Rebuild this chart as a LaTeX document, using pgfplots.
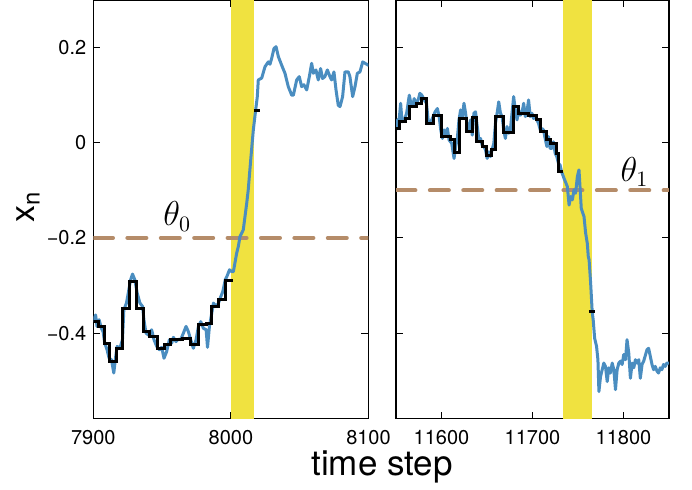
\documentclass[border=0pt]{standalone}
\usepackage{pgfplots}
\pgfplotsset{compat=1.18}
\usepackage{fontspec}
\setmainfont{TeX Gyre Heros}
\definecolor{myblue}{RGB}{74,141,192}
\definecolor{bandyellow}{RGB}{240,226,64}
\definecolor{dashtan}{RGB}{181,140,105}
\pgfplotsset{
  myax/.style={
    scale only axis,
    height=209.35pt,
    ymin=-0.58, ymax=0.3,
    ytick={-0.4,-0.2,0,0.2},
    tick align=inside,
    major tick length=3.5pt,
    scaled x ticks=false,
    scaled y ticks=false,
    axis line style={line width=0.75pt, black},
    every tick/.style={black, line width=0.5pt},
    tick label style={font=\fontsize{10}{11}\selectfont},
    xticklabel style={yshift=-2.5pt},
    clip=true,
  },
  bluel/.style={myblue, line width=1.5pt, line join=round, no marks},
  blackl/.style={black, line width=1.5pt, no marks, const plot},
  dashl/.style={dashtan, line width=2pt, line cap=round, dash pattern=on 9.5pt off 7.2pt, no marks},
}
\begin{document}
\begin{tikzpicture}
\useasboundingbox (0,0) rectangle (346pt,244.5pt);
% ---------------- left panel
\begin{axis}[myax,
  at={(46.65pt,35.15pt)}, anchor=south west,
  width=137.6pt,
  xmin=7900, xmax=8100,
  xtick={7900,8000,8100},
  xticklabels={7900,8000,8100},
  yticklabels={−0.4,−0.2,0,0.2},
]
\addplot[draw=none, fill=bandyellow] coordinates {(8000,-1) (8017,-1) (8017,1) (8000,1)} -- cycle;
\addplot[dashl] coordinates {(7900.5,-0.2) (8100,-0.2)};
\addplot[bluel] coordinates {
(7900,-0.376) (7901.7,-0.362) (7902.7,-0.386) (7904.2,-0.372) (7905.9,-0.390) (7907.1,-0.397)
(7908.3,-0.421) (7910,-0.435) (7911.5,-0.453) (7913.2,-0.456) (7914.9,-0.484) (7916.3,-0.449)
(7917.3,-0.428) (7919.3,-0.432) (7921.2,-0.414) (7922.2,-0.351) (7924.1,-0.337) (7925.4,-0.316)
(7927.1,-0.288) (7928.5,-0.276) (7930.2,-0.288) (7931.9,-0.316) (7933.9,-0.337) (7935.8,-0.344)
(7936.8,-0.372) (7938.3,-0.400) (7940,-0.404) (7942.4,-0.393) (7944.1,-0.414) (7946.1,-0.428)
(7948,-0.435) (7949.7,-0.430) (7951.4,-0.453) (7953.3,-0.439) (7955.3,-0.414) (7957,-0.421)
(7958.2,-0.409) (7960.1,-0.418) (7961.8,-0.413) (7963.5,-0.414) (7965.5,-0.400) (7967.4,-0.386)
(7969.1,-0.397) (7970.8,-0.414) (7972.7,-0.432) (7974.7,-0.414) (7976.4,-0.386) (7978.1,-0.376)
(7980,-0.390) (7982,-0.393) (7983,-0.430) (7984.4,-0.386) (7986.1,-0.358) (7987.3,-0.337)
(7989.3,-0.344) (7991,-0.337) (7992.7,-0.323) (7994.1,-0.313) (7995.9,-0.288) (7997.1,-0.281)
(7999,-0.267) (8000.7,-0.271) (8001.8,-0.271) (8004.2,-0.232) (8005.4,-0.218) (8006.6,-0.197)
(8009,-0.183) (8011.5,-0.127) (8012.6,-0.099) (8014.6,-0.029) (8016.3,0.027) (8018,0.069)
(8019.2,0.097) (8019.9,0.132) (8022.4,0.136) (8024.8,0.160) (8027.2,0.170) (8028.4,0.165)
(8029.6,0.177) (8031.3,0.198) (8032.8,0.202) (8034.5,0.181) (8036.9,0.163) (8039.3,0.146)
(8041.7,0.118) (8044.2,0.100) (8045.4,0.100) (8047.8,0.132) (8049.7,0.139) (8051.4,0.118)
(8053,0.122) (8055.1,0.111) (8057,0.139) (8058.7,0.167) (8059.9,0.146) (8061.8,0.153)
(8063.5,0.132) (8065.2,0.156) (8066.6,0.135) (8068.3,0.139) (8070.1,0.153) (8072,0.139)
(8073.2,0.132) (8074.9,0.149) (8076.4,0.111) (8078,0.079) (8079.3,0.076) (8081.2,0.097)
(8082.9,0.149) (8085.3,0.149) (8086.5,0.139) (8088.5,0.097) (8090.2,0.118) (8091.9,0.146)
(8093.8,0.149) (8095.8,0.170) (8097.5,0.167) (8099.9,0.163) (8100,0.163)
};
\addplot[blackl] coordinates {
(7900,-0.376) (7904,-0.386) (7908,-0.421) (7911.5,-0.460) (7916.5,-0.432) (7921.5,-0.348)
(7926.5,-0.292) (7931.5,-0.348) (7936.5,-0.397) (7941,-0.407) (7946.5,-0.432) (7952,-0.425)
(7956,-0.414) (7965,-0.411) (7970.5,-0.425) (7976.5,-0.383) (7982,-0.379) (7986,-0.345)
(7991,-0.330) (7996,-0.289) (8001.5,-0.289)
};
\addplot[blackl] coordinates {(8016.5,0.068) (8021.5,0.068)};
\node at (axis cs:7961,-0.155) {\fontsize{16}{17}\selectfont$\theta_0$};
\end{axis}
% ---------------- right panel
\begin{axis}[myax,
  at={(198pt,35.15pt)}, anchor=south west,
  width=136.5pt,
  xmin=11550, xmax=11850,
  xtick={11600,11700,11800},
  xticklabels={11600,11700,11800},
  yticklabels={},
]
\addplot[draw=none, fill=bandyellow] coordinates {(11733,-1) (11765,-1) (11765,1) (11733,1)} -- cycle;
\addplot[dashl] coordinates {(11550.5,-0.1) (11850,-0.1)};
\addplot[bluel] coordinates {
(11550,0.027) (11551.8,0.048) (11553.6,0.051) (11555.1,0.083) (11556.6,0.044) (11559.1,0.048)
(11561.7,0.062) (11564.6,0.100) (11566.4,0.083) (11568.2,0.076) (11570,0.093) (11571.9,0.079)
(11574.8,0.093) (11576.2,0.104) (11578.4,0.100) (11581,0.090) (11583.5,0.083) (11585.7,0.041)
(11588.3,0.044) (11590.8,0.055) (11593,0.065) (11595.5,0.072) (11597.4,0.055) (11599.2,0.027)
(11601,0.009) (11602.8,0.027) (11604.6,0.016) (11606.5,0.030) (11608.3,0.006) (11611.2,-0.001)
(11613.8,-0.033) (11615.6,-0.008) (11617.4,0.009) (11619.2,0.048) (11621,0.069) (11622.9,0.055)
(11624.7,0.083) (11626.5,0.062) (11628.3,0.034) (11630.1,0.027) (11632,0.048) (11633.8,0.016)
(11635.6,0.062) (11637.4,0.065) (11639.3,0.034) (11641.1,0.006) (11642.9,0.009) (11644.7,-0.005)
(11646.5,-0.008) (11648.4,-0.015) (11650.2,-0.033) (11652,-0.019) (11653.8,-0.029) (11655.6,-0.015)
(11657.5,-0.001) (11659.3,0.041) (11661.1,0.062) (11662.9,0.086) (11664.8,0.062) (11666.6,0.055)
(11668.4,0.027) (11670.2,0.009) (11672,0.034) (11673.9,0.020) (11675.7,0.027) (11677.5,0.062)
(11679.3,0.097) (11681.1,0.069) (11683,0.048) (11684.8,0.069) (11686.6,0.058) (11688.4,0.062)
(11690.3,0.083) (11692.1,0.055) (11693.9,0.065) (11695.7,0.090) (11697.5,0.055) (11699.4,0.062)
(11701.2,0.051) (11703,0.055) (11704.8,0.048) (11706.6,0.041) (11708.5,0.027) (11710.3,0.030)
(11712.1,0.027) (11713.9,0.009) (11715.8,-0.008) (11717.6,0.013) (11719.4,-0.012) (11721.2,-0.012)
(11723,0.002) (11724.9,-0.022) (11726.7,-0.029) (11728.5,-0.043) (11730.3,-0.047) (11732,-0.061)
(11734.7,-0.075) (11738.3,-0.092) (11740.2,-0.131) (11742,-0.113) (11743.8,-0.120) (11745.6,-0.099)
(11747.4,-0.106) (11749.3,-0.071) (11751.1,-0.057) (11752.2,-0.092) (11753.6,-0.138) (11756.6,-0.155)
(11758.4,-0.190) (11760.2,-0.211) (11761.3,-0.239) (11762.2,-0.246) (11763.9,-0.295) (11765.6,-0.355)
(11766.7,-0.372) (11768.3,-0.411) (11770.4,-0.428) (11771.9,-0.456) (11773,-0.523) (11774.8,-0.491)
(11776.6,-0.477) (11778.4,-0.463) (11780.2,-0.470) (11782.1,-0.502) (11783.9,-0.473) (11785.7,-0.484)
(11787.6,-0.463) (11789.4,-0.477) (11791.2,-0.519) (11793,-0.477) (11794.9,-0.463) (11796.7,-0.459)
(11798.5,-0.466) (11800.3,-0.445) (11802.2,-0.456) (11803.9,-0.414) (11805.8,-0.442) (11807.6,-0.495)
(11809.5,-0.463) (11811.3,-0.473) (11813.1,-0.456) (11814.9,-0.463) (11816.8,-0.456) (11818.5,-0.495)
(11820.4,-0.466) (11822.2,-0.459) (11825.8,-0.435) (11827.6,-0.432) (11829.5,-0.449) (11831.3,-0.466)
(11833.1,-0.477) (11834.9,-0.470) (11836.8,-0.480) (11838.5,-0.484) (11840.4,-0.473) (11842.2,-0.477)
(11844,-0.466) (11845.9,-0.470) (11847.7,-0.463) (11850,-0.463)
};
\addplot[blackl] coordinates {
(11550,0.030) (11554,0.044) (11560,0.051) (11565,0.076) (11573,0.083) (11578,0.092)
(11583.5,0.041) (11591,0.058) (11600,0.014) (11610,0.006) (11614.5,-0.020) (11619.5,0.051)
(11628,0.023) (11634,0.054) (11639,0.002) (11645,-0.008) (11649,-0.026) (11655,-0.015)
(11659,0.055) (11668.5,0.021) (11679,0.076) (11685,0.062) (11696,0.058) (11704,0.048)
(11709,0.023) (11715,0.006) (11720,-0.001) (11726,-0.022) (11729,-0.061) (11733.5,-0.061)
};
\addplot[blackl] coordinates {(11762,-0.355) (11769,-0.355)};
\node at (axis cs:11812,-0.062) {\fontsize{16}{17}\selectfont$\theta_1$};
\end{axis}
\node at (191pt,11pt) {\fontsize{17.5}{19}\selectfont time step};
\node[rotate=90] at (14pt,141pt) {\fontsize{17}{18}\selectfont x\textsubscript{n}};
\end{tikzpicture}
\end{document}
